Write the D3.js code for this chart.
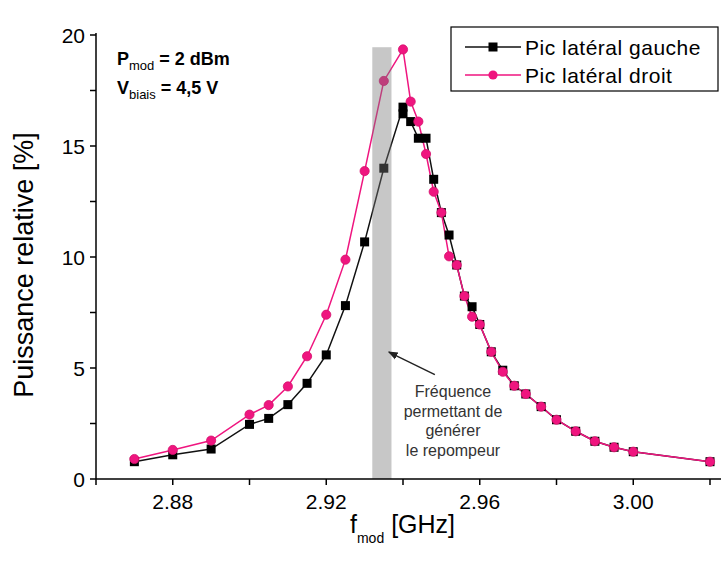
<!DOCTYPE html>
<html>
<head>
<meta charset="utf-8">
<script src="https://cdn.jsdelivr.net/npm/d3@7"></script>
<style>
  html, body { margin: 0; padding: 0; background: #fff; }
  svg { display: block; font-family: "Liberation Sans", Arial, sans-serif; }
</style>
</head>
<body>
<svg id="chart" width="721" height="564"></svg>
<script>
// ---- data ----
const pinkX = [2.87, 2.88, 2.89, 2.90, 2.905, 2.91, 2.915, 2.92, 2.925, 2.93, 2.935, 2.94,
  2.942, 2.944, 2.946, 2.948, 2.950, 2.952, 2.954, 2.956, 2.958, 2.960, 2.963, 2.966,
  2.969, 2.972, 2.976, 2.980, 2.985, 2.990, 2.995, 3.000, 3.020];
const pinkY = [0.90, 1.31, 1.73, 2.90, 3.33, 4.17, 5.53, 7.40, 9.88, 13.87, 17.93, 19.35,
  17.0, 16.1, 14.64, 12.94, 12.0, 10.03, 9.64, 8.24, 7.31, 6.96, 5.73, 4.83,
  4.20, 3.83, 3.26, 2.67, 2.15, 1.70, 1.43, 1.23, 0.78];

const blackX = [2.87, 2.88, 2.89, 2.90, 2.905, 2.91, 2.915, 2.92, 2.925, 2.93, 2.935, 2.94, 2.94,
  2.942, 2.944, 2.946, 2.948, 2.950, 2.952, 2.954, 2.956, 2.958, 2.960, 2.963, 2.966,
  2.969, 2.972, 2.976, 2.980, 2.985, 2.990, 2.995, 3.000, 3.020];
const blackY = [0.78, 1.09, 1.35, 2.46, 2.73, 3.35, 4.31, 5.59, 7.81, 10.68, 14.0, 16.75, 16.45,
  16.1, 15.35, 15.35, 13.5, 12.0, 10.99, 9.64, 8.24, 7.76, 6.96, 5.73, 4.90,
  4.20, 3.83, 3.26, 2.67, 2.15, 1.70, 1.43, 1.23, 0.78];

const seriesNames = ["Pic latéral gauche", "Pic latéral droit"];
const xMajorTicks = [2.88, 2.92, 2.96, 3.00];
const xMinorTicks = [2.86, 2.90, 2.94, 2.98, 3.02];
const yMajorTicks = [0, 5, 10, 15, 20];
const yMinorTicks = [2.5, 7.5, 12.5, 17.5];
const band = [2.932, 2.937, 19.45];          // x0, x1, top value
const arrowPts = [[2.9483, 4.7], [2.9363, 5.72]]; // tail, head (data units)
const noteLines = ["Fréquence", "permettant de", "générer", "le repompeur"];

// ---- layout ----
const svg = d3.select("#chart");
const x = d3.scaleLinear().domain([2.86, 3.02]).range([96, 710]);
const y = d3.scaleLinear().domain([0, 20]).range([479, 35]);
const PINK = "#ef157f";

const pink = pinkX.map((v, i) => [v, pinkY[i]]);
const black = blackX.map((v, i) => [v, blackY[i]]);
const line = d3.line().x(d => x(d[0])).y(d => y(d[1]));

// lines
svg.append("path").datum(black).attr("d", line)
  .attr("fill", "none").attr("stroke", "#111").attr("stroke-width", 1.5);
svg.append("path").datum(pink).attr("d", line)
  .attr("fill", "none").attr("stroke", PINK).attr("stroke-width", 1.5);

// markers
svg.append("g").selectAll("rect").data(black).join("rect")
  .attr("x", d => x(d[0]) - 4.5).attr("y", d => y(d[1]) - 4.5)
  .attr("width", 9).attr("height", 9).attr("fill", "#000");
svg.append("g").selectAll("circle").data(pink).join("circle")
  .attr("cx", d => x(d[0])).attr("cy", d => y(d[1])).attr("r", 4.6)
  .attr("fill", PINK).attr("stroke", "#d4106c").attr("stroke-width", 0.8);

// band overlay
svg.append("rect")
  .attr("x", x(band[0])).attr("width", x(band[1]) - x(band[0]))
  .attr("y", y(band[2])).attr("height", y(0) - y(band[2]))
  .attr("fill", "#7a7a7a").attr("fill-opacity", 0.42);

// axes
const axisG = svg.append("g").attr("stroke", "#000");
axisG.append("line").attr("x1", x(2.86)).attr("x2", 721).attr("y1", y(0)).attr("y2", y(0)).attr("stroke-width", 1.5);
axisG.append("line").attr("x1", x(2.86)).attr("x2", x(2.86)).attr("y1", y(0)).attr("y2", y(20) - 2).attr("stroke-width", 1.5);

axisG.selectAll(".xt").data(xMajorTicks.concat(xMinorTicks)).join("line")
  .attr("x1", d => x(d)).attr("x2", d => x(d))
  .attr("y1", y(0)).attr("y2", y(0) + 6).attr("stroke-width", 1.5);
axisG.selectAll(".yt").data(yMajorTicks.concat(yMinorTicks)).join("line")
  .attr("x1", x(2.86) - 6).attr("x2", x(2.86))
  .attr("y1", d => y(d)).attr("y2", d => y(d)).attr("stroke-width", 1.5);

const fmt = d3.format(".2f");
svg.append("g").selectAll("text").data(xMajorTicks).join("text")
  .attr("x", d => x(d)).attr("y", y(0) + 30)
  .attr("text-anchor", "middle").attr("font-size", 21).attr("fill", "#000")
  .text(d => fmt(d));
svg.append("g").selectAll("text").data(yMajorTicks).join("text")
  .attr("x", x(2.86) - 11).attr("y", d => y(d) + 7.5)
  .attr("text-anchor", "end").attr("font-size", 21).attr("fill", "#000")
  .text(d => d);

// axis titles
svg.append("text")
  .attr("transform", `translate(33, ${(y(0) + y(20)) / 2 + 8}) rotate(-90)`)
  .attr("text-anchor", "middle").attr("font-size", 27).attr("fill", "#000")
  .text("Puissance relative [%]");
const xt = svg.append("text").attr("x", 350).attr("y", 533).attr("font-size", 25).attr("fill", "#000");
xt.append("tspan").text("f");
xt.append("tspan").attr("font-size", 14).attr("dy", 10).text("mod");
xt.append("tspan").attr("dy", -10).text(" [GHz]");

// top-left parameters
const t1 = svg.append("text").attr("x", 117).attr("y", 65).attr("font-size", 18).attr("font-weight", "bold");
t1.append("tspan").text("P");
t1.append("tspan").attr("font-size", 13).attr("font-weight", "normal").attr("dy", 5).text("mod");
t1.append("tspan").attr("dy", -5).text(" = 2 dBm");
const t2 = svg.append("text").attr("x", 117).attr("y", 94).attr("font-size", 18).attr("font-weight", "bold");
t2.append("tspan").text("V");
t2.append("tspan").attr("font-size", 13).attr("font-weight", "normal").attr("dy", 5).text("biais");
t2.append("tspan").attr("dy", -5).text(" = 4,5 V");

// legend
const lg = svg.append("g");
lg.append("rect").attr("x", 451).attr("y", 27).attr("width", 267).attr("height", 64)
  .attr("fill", "#fff").attr("stroke", "#000").attr("stroke-width", 1.2);
const rows = [47, 75];
seriesNames.forEach((name, i) => {
  const col = i === 0 ? "#111" : PINK;
  lg.append("line").attr("x1", 465).attr("x2", 521).attr("y1", rows[i]).attr("y2", rows[i])
    .attr("stroke", col).attr("stroke-width", 1.5);
  if (i === 0) {
    lg.append("rect").attr("x", 488.5).attr("y", rows[i] - 4.5).attr("width", 9).attr("height", 9).attr("fill", "#000");
  } else {
    lg.append("circle").attr("cx", 493).attr("cy", rows[i]).attr("r", 4.6).attr("fill", PINK);
  }
  lg.append("text").attr("x", 525).attr("y", rows[i] + 7.5).attr("font-size", 21).attr("fill", "#000")
    .attr("letter-spacing", 0.5).text(name);
});

// annotation arrow + text
const defs = svg.append("defs");
defs.append("marker").attr("id", "ah").attr("viewBox", "0 0 10 10").attr("refX", 9).attr("refY", 5)
  .attr("markerWidth", 7).attr("markerHeight", 7).attr("orient", "auto")
  .append("path").attr("d", "M0,1 L10,5 L0,9 z").attr("fill", "#222");
svg.append("line")
  .attr("x1", x(arrowPts[0][0])).attr("y1", y(arrowPts[0][1]))
  .attr("x2", x(arrowPts[1][0])).attr("y2", y(arrowPts[1][1]))
  .attr("stroke", "#222").attr("stroke-width", 1.4).attr("marker-end", "url(#ah)");
svg.append("g").selectAll("text").data(noteLines).join("text")
  .attr("x", 453).attr("y", (d, i) => 397 + i * 19.5)
  .attr("text-anchor", "middle").attr("font-size", 16).attr("fill", "#333")
  .text(d => d);
</script>
</body>
</html>
